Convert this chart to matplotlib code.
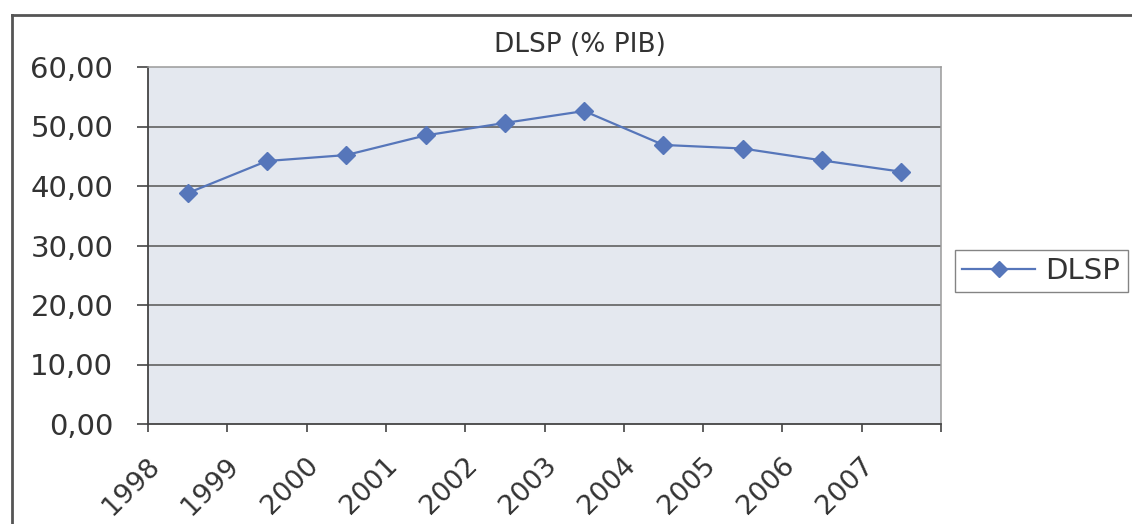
import matplotlib.pyplot as plt
from matplotlib.lines import Line2D
from matplotlib.transforms import ScaledTranslation

# Data: DLSP as a share of GDP, one value per year
years = ['1998', '1999', '2000', '2001', '2002', '2003', '2004', '2005', '2006', '2007']
dlsp = [38.8, 44.2, 45.2, 48.5, 50.6, 52.6, 46.9, 46.3, 44.3, 42.4]
y_ticks = [0, 10, 20, 30, 40, 50, 60]
y_labels = ['0,00', '10,00', '20,00', '30,00', '40,00', '50,00', '60,00']

plt.rcParams['font.family'] = ['DejaVu Sans']

fig = plt.figure(figsize=(11.32, 5.24), dpi=100)
W, H = 1132, 524

# plot area in pixel terms
left, right, top, bottom = 148, 941, 67, 424
ax = fig.add_axes([left / W, 1 - bottom / H, (right - left) / W, (bottom - top) / H])
ax.set_facecolor('#e4e8ef')

line_color = '#5676ba'
xpos = [i + 0.5 for i in range(len(dlsp))]
ax.plot(xpos, dlsp, color=line_color, lw=1.6, marker='D', markersize=9,
        markerfacecolor=line_color, markeredgecolor=line_color, label='DLSP', zorder=3)

ax.set_xlim(0, len(years))
ax.set_ylim(0, 60)

# horizontal gridlines
for v in y_ticks[1:-1]:
    ax.axhline(v, color='#555555', lw=1.1, zorder=1)

ax.set_yticks(y_ticks)
ax.set_yticklabels(y_labels, fontsize=21, color='#333333')
ax.tick_params(axis='y', length=8, width=1.2, color='#444444', pad=17)

ax.set_xticks(range(len(years) + 1))
ax.set_xticklabels(years + [''], fontsize=19.5, color='#333333', rotation=45,
                   ha='right', va='center', rotation_mode='anchor')
ax.tick_params(axis='x', length=6, width=1.2, color='#444444', pad=14)
# nudge the slanted year labels so their ends sit just right of the ticks
shift = ScaledTranslation(8 / 100, -10 / 100, fig.dpi_scale_trans)
for lbl in ax.get_xticklabels():
    lbl.set_transform(lbl.get_transform() + shift)

for side in ['left', 'bottom']:
    ax.spines[side].set_color('#444444')
    ax.spines[side].set_linewidth(1.3)
for side in ['top', 'right']:
    ax.spines[side].set_color('#9a9a9a')
    ax.spines[side].set_linewidth(1.1)

fig.text(580 / W, 1 - 45 / H, 'DLSP (% PIB)', fontsize=19, color='#333333',
         ha='center', va='center')

leg = ax.legend(loc='center left', bbox_to_anchor=(955 / W, 1 - 271 / H),
                bbox_transform=fig.transFigure, fontsize=21, frameon=True,
                fancybox=False, handlelength=2.5, borderpad=0.25,
                handletextpad=0.35, borderaxespad=0, markerscale=0.85)
leg.get_frame().set_edgecolor('#666666')
leg.get_frame().set_linewidth(1.0)
for t in leg.get_texts():
    t.set_color('#333333')

# outer chart border (left and top edges)
fig.add_artist(Line2D([12 / W, 12 / W], [0, 1 - 15 / H], transform=fig.transFigure,
                      color='#555555', lw=2))
fig.add_artist(Line2D([12 / W, 1], [1 - 15 / H, 1 - 15 / H], transform=fig.transFigure,
                      color='#555555', lw=2))

fig.savefig('out.png', dpi=100)
